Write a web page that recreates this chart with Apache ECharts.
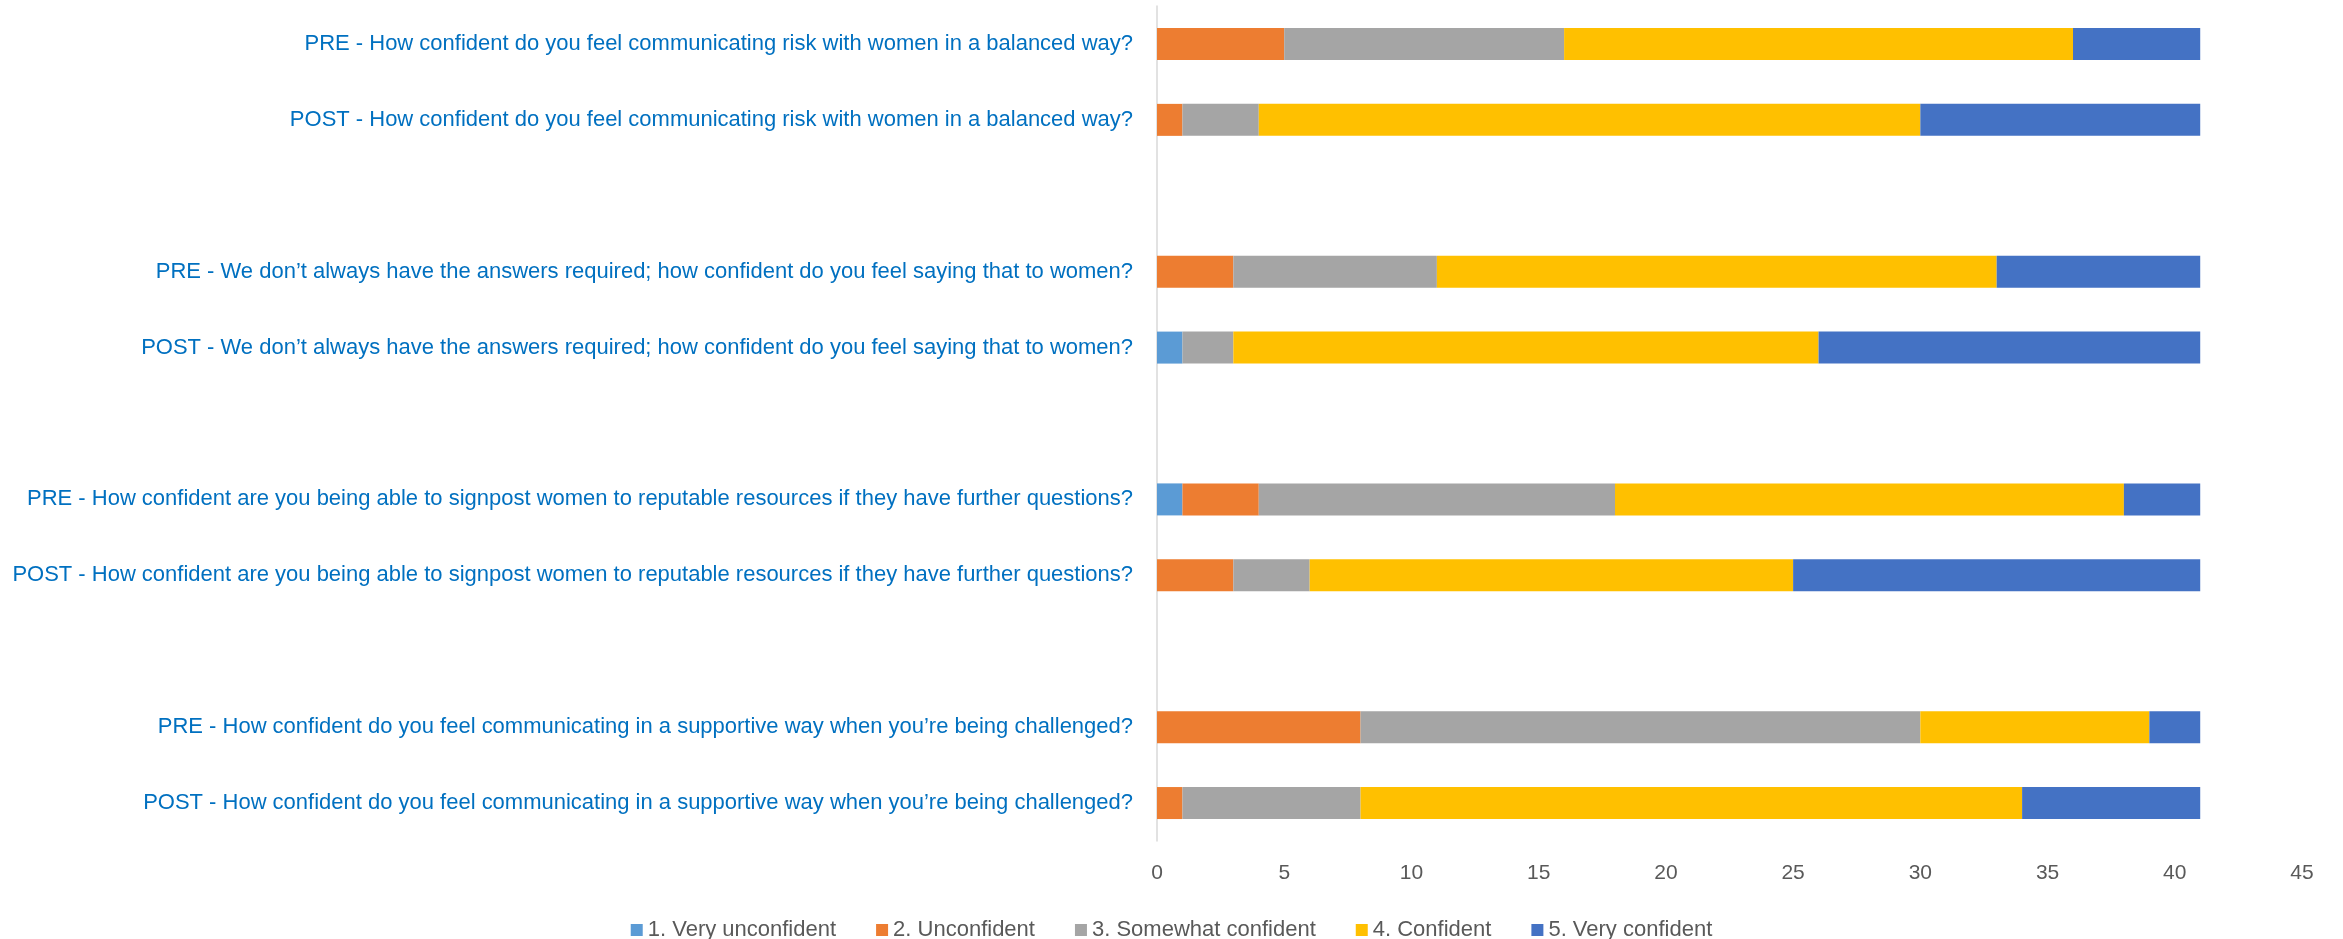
<!DOCTYPE html>
<html>
<head>
<meta charset="utf-8">
<script src="https://cdn.jsdelivr.net/npm/echarts@6/dist/echarts.min.js"></script>
<style>
html,body{margin:0;padding:0;background:#fff;}
#c{width:2343px;height:939px;}
</style>
</head>
<body>
<div id="c"></div>
<script>
const categories = [
  "PRE - How confident do you feel communicating risk with women in a balanced way?",
  "POST - How confident do you feel communicating risk with women in a balanced way?",
  " ",
  "PRE - We don\u2019t always have the answers required; how confident do you feel saying that to women?",
  "POST - We don\u2019t always have the answers required; how confident do you feel saying that to women?",
  "  ",
  "PRE - How confident are you being able to signpost women to reputable resources if they have further questions?",
  "POST - How confident are you being able to signpost women to reputable resources if they have further questions?",
  "   ",
  "PRE - How confident do you feel communicating in a supportive way when you\u2019re being challenged?",
  "POST - How confident do you feel communicating in a supportive way when you\u2019re being challenged?"
];
const seriesNames = ["1. Very unconfident", "2. Unconfident", "3. Somewhat confident", "4. Confident", "5. Very confident"];
const veryUnconfident   = [0, 0, null, 0, 1, null, 1, 0, null, 0, 0];
const unconfident       = [5, 1, null, 3, 0, null, 3, 3, null, 8, 1];
const somewhatConfident = [11, 3, null, 8, 2, null, 14, 3, null, 22, 7];
const confident         = [20, 26, null, 22, 23, null, 20, 19, null, 9, 26];
const veryConfident     = [5, 11, null, 8, 15, null, 3, 16, null, 2, 7];
const xTicks = {min: 0, max: 45, interval: 5};

const colors = ["#5B9BD5", "#ED7D31", "#A5A5A5", "#FFC000", "#4472C4"];
const FONT = "Liberation Sans";

// fit label font so longest label spans ~1121px like the reference
const cv = document.createElement('canvas').getContext('2d');
cv.font = "100px '" + FONT + "'";
let longest = 0;
categories.forEach(c => { longest = Math.max(longest, cv.measureText(c).width); });
const labelSize = Math.min(23, 1121 / longest * 100);

const allData = [veryUnconfident, unconfident, somewhatConfident, confident, veryConfident];
const chart = echarts.init(document.getElementById('c'));
chart.setOption({
  animation: false,
  textStyle: {fontFamily: FONT},
  grid: {left: 1157, right: 41, top: 6, bottom: 98, containLabel: false},
  legend: {
    data: seriesNames,
    top: 914,
    left: 'center',
    itemWidth: 12,
    itemHeight: 12,
    itemGap: 40,
    icon: 'rect',
    textStyle: {fontSize: 22, color: '#595959', fontFamily: FONT}
  },
  xAxis: {
    type: 'value',
    min: xTicks.min, max: xTicks.max, interval: xTicks.interval,
    axisLine: {show: false},
    axisTick: {show: false},
    splitLine: {show: false},
    axisLabel: {fontSize: 21, color: '#595959', margin: 22, fontFamily: FONT}
  },
  yAxis: {
    type: 'category',
    data: categories,
    inverse: true,
    axisLine: {show: true, lineStyle: {color: '#D9D9D9', width: 1.5}},
    axisTick: {show: false},
    axisLabel: {fontSize: labelSize, color: '#0070C0', margin: 24, fontFamily: FONT}
  },
  series: seriesNames.map((n, i) => ({
    name: n,
    type: 'bar',
    stack: 'total',
    barWidth: 32,
    itemStyle: {color: colors[i]},
    data: allData[i]
  }))
});
</script>
</body>
</html>
